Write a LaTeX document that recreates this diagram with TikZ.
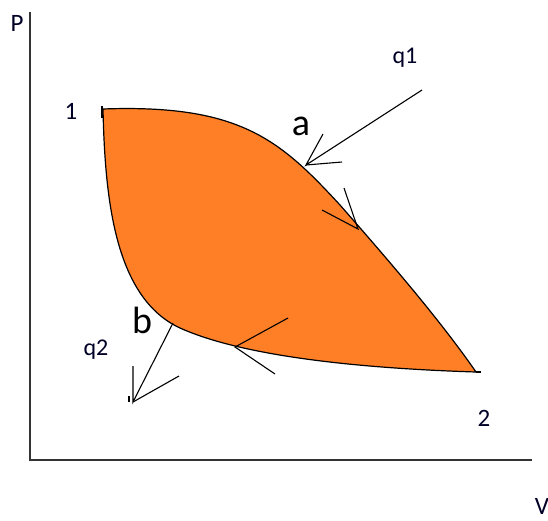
\documentclass[tikz,border=0pt]{standalone}
\usepackage{fontspec}
\setmainfont{Carlito}
\begin{document}
\begin{tikzpicture}[x=1pt,y=-1pt,
  axis/.style={line width=2pt,draw=black!80},
  edge/.style={line width=1.2pt,draw=black},
  thin/.style={line width=1.1pt,draw=black},
  lbl/.style={inner sep=0pt,font=\fontsize{25}{29}\selectfont,text=black!85!blue},
  small/.style={inner sep=0pt,font=\fontsize{24}{28}\selectfont,text=black!85!blue},
  big/.style={inner sep=0pt,font=\fontsize{38}{44}\selectfont,text=black}]
\useasboundingbox (0,0) rectangle (548,520);
\definecolor{paintorange}{RGB}{255,127,39}
% axes
\coordinate (top) at (30,12);
\coordinate (origin) at (30,460);
\coordinate (right) at (532,460);
\draw[axis] (top) -- (origin) -- (right);
% cycle
\coordinate (p1) at (103,109);
\coordinate (p2) at (476,372);
\filldraw[fill=paintorange,edge]
  (p1) .. controls (240,104) and (280,140) .. (340,205)
       .. controls (390,262) and (440,320) .. (p2)
       .. controls (350,368) and (240,355) .. (180,328)
       .. controls (115,298) and (105,200) .. (p1) -- cycle;
\draw[thin] (102,106) -- (102,118);
\draw[thin] (p2) -- (481,372);
% labels
\node[lbl] (P) at (17,23) {P};
\node[lbl] (V) at (542,506) {V};
\node[lbl] (l1) at (71,111) {1};
\node[lbl] (l2) at (484,418) {2};
\node[big] (a) at (301,126) {a};
\node[big] (b) at (142,320) {b};
\node[small] (q1) at (405,58) {q1};
\node[small] (q2) at (96,350) {q2};
% q1 arrow
\coordinate (q1s) at (422,90);
\coordinate (q1e) at (306,165);
\draw[thin] (q1s) -- (q1e) -- (323,134);
\draw[thin] (q1e) -- (342,162);
% arrow on upper curve
\coordinate (ua) at (358,229);
\draw[thin] (344,188) -- (ua) -- (322,210);
% arrow on lower curve
\coordinate (la) at (235,347);
\draw[thin] (288,318) -- (la) -- (275,374);
% q2 arrow
\coordinate (q2s) at (173,323);
\coordinate (q2e) at (133,402);
\draw[thin] (q2s) -- (q2e) -- (133,366);
\draw[thin] (q2e) -- (179,376);
\draw[thin] (129,396) -- (129,402);
\end{tikzpicture}
\end{document}
